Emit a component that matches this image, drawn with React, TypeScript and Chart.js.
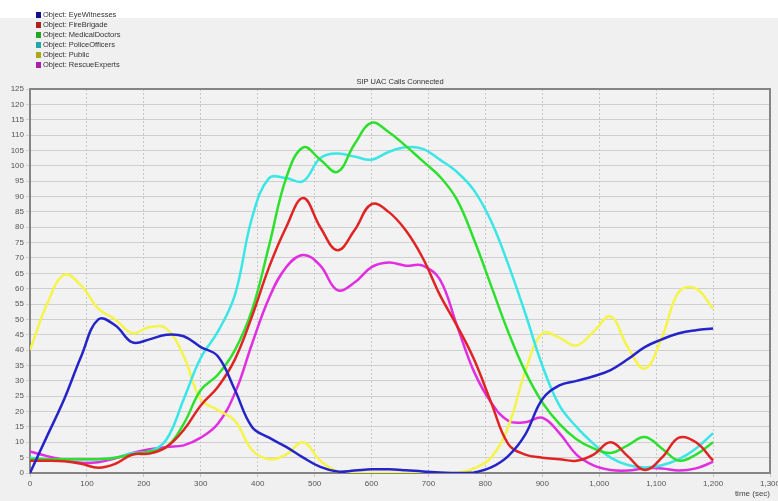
import React, { useEffect, useRef } from "react";
import { Chart, registerables } from "chart.js";

Chart.register(...registerables);

const times = [0, 30, 60, 90, 120, 150, 180, 210, 240, 270, 300, 330, 360, 390, 420, 450, 480, 510, 540, 570, 600, 630, 660, 690, 720, 750, 780, 810, 840, 870, 900, 930, 960, 990, 1020, 1050, 1080, 1110, 1140, 1170, 1200];

const eyeWitnesses = [0, 12, 24, 38, 50, 48, 42.5, 43.5, 45, 44.5, 41, 38, 27, 15, 11.5, 8.5, 5, 2, 0.5, 0.8, 1.2, 1.2, 0.9, 0.5, 0.2, 0, 0.2, 1.8, 5.5, 12.5, 24, 28.5, 30, 31.5, 33.5, 37, 41, 43.5, 45.5, 46.5, 47];
const fireBrigade = [4, 4, 3.8, 3, 1.7, 3, 6, 6.3, 8.5, 14, 22, 28, 37, 51, 67, 80, 89.5, 80, 72.5, 79, 87.5, 85, 79, 70, 58, 48, 37, 23, 9.5, 6, 5, 4.5, 4, 6, 10, 5.5, 1, 5, 11.5, 10, 4];
const medicalDoctors = [4.5, 4.5, 4.5, 4.5, 4.5, 5, 6, 7, 8.5, 16, 27, 32, 40, 53, 74, 96, 106, 102, 98, 107, 114, 111, 106.5, 101.5, 96.5, 89, 76, 61, 46, 33, 23, 16, 11, 8, 6.5, 9, 11.7, 8, 4, 6, 10];
const policeOfficers = [5, 4.5, 4.5, 4.5, 4.5, 5, 6.5, 7, 11, 24, 37.5, 46, 58, 83, 96, 96, 95, 102.5, 104, 103, 102, 104.5, 106, 105.5, 102, 98, 92, 82, 68, 52, 35, 22, 15, 9.5, 5, 2.6, 1.8, 2.5, 4.5, 8, 13];
const publicCallers = [40, 55, 64.5, 61, 53.5, 50, 45.5, 47.5, 47, 38, 24, 20.5, 17, 7.5, 4.5, 6, 10, 4, 0.5, 0, 0, 0, 0, 0, 0, 0, 1.5, 5, 15, 33, 45.5, 44, 41.5, 46, 51, 41, 34, 44, 59, 60, 53.5];
const rescueExperts = [7, 5.5, 4.3, 3.3, 3.5, 4.8, 6.5, 7.7, 8.5, 9, 11.5, 16, 26, 42, 57, 67, 71, 67.5, 59.5, 62, 67, 68.5, 67.5, 67.5, 63, 48, 33, 23, 17, 16.5, 18, 13, 6, 2.5, 1, 0.8, 1.5, 1.5, 0.8, 1.5, 3.6];

const seriesLabels = [
  "Object: EyeWitnesses",
  "Object: FireBrigade",
  "Object: MedicalDoctors",
  "Object: PoliceOfficers",
  "Object: Public",
  "Object: RescueExperts",
];
const seriesValues = [eyeWitnesses, fireBrigade, medicalDoctors, policeOfficers, publicCallers, rescueExperts];
const lineColors = ["#2424c8", "#e02424", "#2ee02e", "#3ae6e6", "#f4f44a", "#e02ee0"];
const legendColors = ["#10108f", "#b02020", "#20a820", "#20a8a8", "#a8a810", "#a820a8"];

const chartTitle = "SIP UAC Calls Connected";
const xTitle = "time (sec)";
const FONT = "'Liberation Sans', Arial, sans-serif";

export default function App() {
  const ref = useRef<HTMLCanvasElement | null>(null);

  useEffect(() => {
    const canvas = ref.current;
    if (!canvas) return;

    const decor = {
      id: "decor",
      beforeDraw(chart: any) {
        const { ctx, width, height } = chart;
        ctx.save();
        ctx.fillStyle = "#f0f0f0";
        ctx.fillRect(0, 0, width, height);
        ctx.fillStyle = "#ffffff";
        ctx.fillRect(0, 0, width, 18);
        const a = chart.chartArea;
        ctx.fillStyle = "#f2f2f2";
        ctx.fillRect(a.left, a.top, a.right - a.left, a.bottom - a.top);
        ctx.restore();
      },
      beforeDatasetsDraw(chart: any) {
        const { ctx } = chart;
        const a = chart.chartArea;
        ctx.save();
        ctx.strokeStyle = "#858585";
        ctx.lineWidth = 2;
        ctx.strokeRect(a.left, a.top, a.right - a.left, a.bottom - a.top);
        ctx.restore();
      },
      afterDraw(chart: any) {
        const { ctx } = chart;
        const a = chart.chartArea;
        ctx.save();
        ctx.font = `7.5px ${FONT}`;
        ctx.fillStyle = "#333";
        ctx.textAlign = "center";
        ctx.textBaseline = "middle";
        ctx.fillText(chartTitle, (a.left + a.right) / 2, a.top - 7);
        ctx.textAlign = "left";
        chart.data.datasets.forEach((ds: any, i: number) => {
          const y = 15 + i * 10;
          ctx.fillStyle = legendColors[i];
          ctx.fillRect(36, y - 3, 5, 6);
          ctx.fillStyle = "#333";
          ctx.fillText(ds.label, 43, y);
        });
        ctx.restore();
      },
    };

    const chart = new Chart(canvas, {
      type: "line",
      data: {
        datasets: seriesLabels.map((label, i) => ({
          label,
          data: times.map((t, j) => ({ x: t, y: seriesValues[i][j] })),
          borderColor: lineColors[i],
          backgroundColor: lineColors[i],
          borderWidth: 2.5,
          pointRadius: 0,
          tension: 0.4,
          fill: false,
        })),
      },
      options: {
        animation: false,
        responsive: false,
        maintainAspectRatio: false,
        layout: { padding: { top: 89, right: 8, left: 0, bottom: 0 } },
        plugins: {
          legend: { display: false },
          title: { display: false },
          tooltip: { enabled: false },
        },
        scales: {
          x: {
            type: "linear",
            min: 0,
            max: 1300,
            ticks: {
              stepSize: 100,
              font: { size: 8, family: FONT },
              color: "#555",
              padding: 2,
              maxRotation: 0,
            },
            grid: { color: "#c8c8c8", tickLength: 4, lineWidth: 1 },
            border: { display: false, dash: [2, 2] },
            title: {
              display: true,
              text: xTitle,
              align: "end",
              font: { size: 8, family: FONT },
              color: "#444",
              padding: { top: 0, bottom: 2 },
            },
            afterFit(scale: any) {
              scale.height = 28;
              scale.paddingRight = 0;
            },
          },
          y: {
            type: "linear",
            min: 0,
            max: 125,
            ticks: {
              stepSize: 5,
              font: { size: 8, family: FONT },
              color: "#555",
              padding: 2,
            },
            grid: { color: "#cfcfcf", tickLength: 4, lineWidth: 1 },
            border: { display: false },
            afterFit(scale: any) {
              scale.width = 30;
            },
          },
        },
      },
      plugins: [decor],
    });

    return () => chart.destroy();
  }, []);

  return (
    <div style={{ position: "fixed", left: 0, top: 0, width: 778, height: 501, background: "#f0f0f0" }}>
      <canvas ref={ref} width={778} height={501} style={{ display: "block", width: 778, height: 501 }} />
    </div>
  );
}
